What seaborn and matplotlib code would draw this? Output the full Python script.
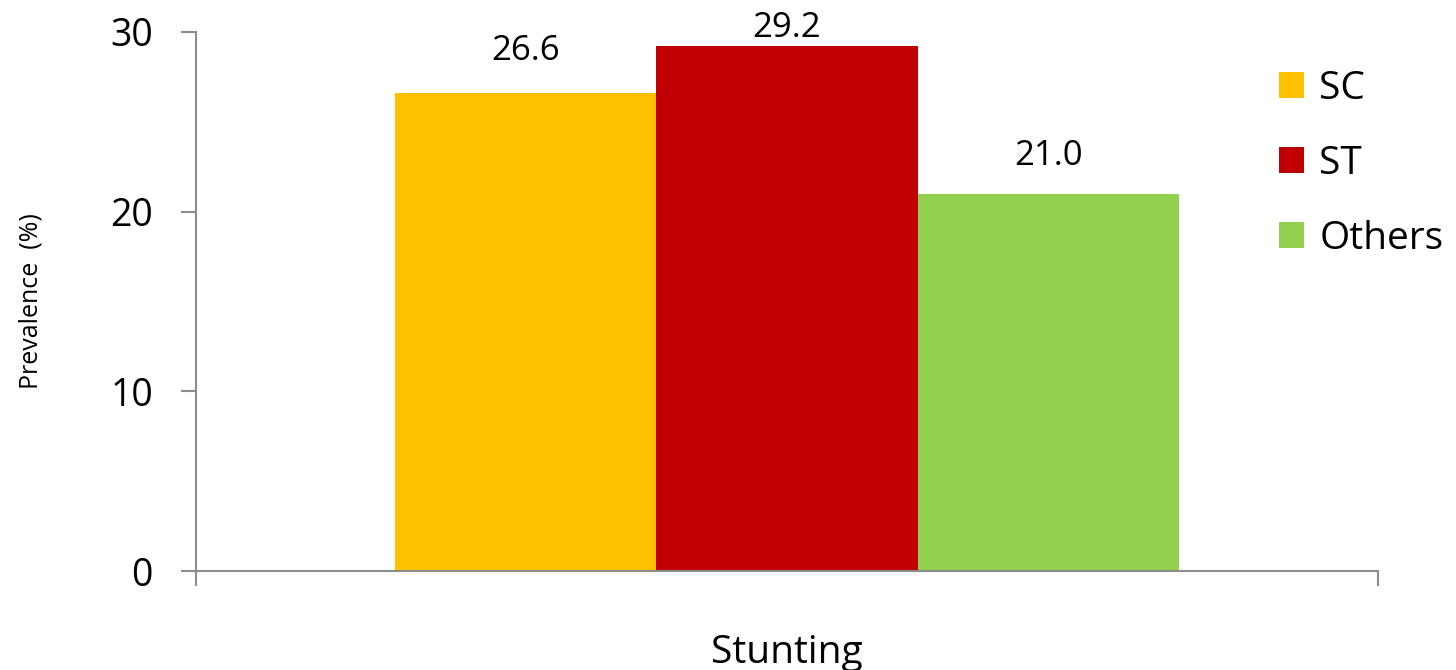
import matplotlib
matplotlib.use("Agg")
import matplotlib.pyplot as plt
import seaborn as sns
import pandas as pd

# Data
indicator = ["Stunting"]
groups = ["SC", "ST", "Others"]
prevalence = [26.6, 29.2, 21.0]
group_colors = ["#FFC000", "#C00000", "#92D050"]
y_ticks = [0, 10, 20, 30]

df = pd.DataFrame({
    "indicator": indicator * len(groups),
    "group": groups,
    "prevalence": prevalence,
})

sns.set_theme(style="white")
plt.rcParams["font.family"] = ["Open Sans", "DejaVu Sans"]
plt.rcParams["text.color"] = "black"
plt.rcParams["xtick.color"] = "black"
plt.rcParams["ytick.color"] = "black"
plt.rcParams["axes.labelcolor"] = "black"

fig = plt.figure(figsize=(14.56, 6.70), dpi=100)
ax = fig.add_axes([196 / 1456, 99 / 670, 1182 / 1456, 539 / 670])

sns.barplot(data=df, x="indicator", y="prevalence", hue="group",
            hue_order=groups, palette=group_colors, width=0.663, gap=0,
            saturation=1, ax=ax, legend=True, linewidth=0)

# value labels above each bar
pads = [18, 1, 15]
for cont, pad in zip(ax.containers, pads):
    ax.bar_label(cont, fmt="%.1f", padding=pad, fontsize=25, color="black")

ax.set_xlim(-0.5, 0.5)
ax.set_ylim(0, 30)
ax.set_yticks(y_ticks)
ax.set_yticklabels([str(t) for t in y_ticks], fontsize=27)
ax.set_xticks([0])
ax.set_xticklabels(indicator, fontsize=28)
ax.set_xticks([-0.5, 0.5], minor=True)
ax.tick_params(axis="x", which="major", length=0, pad=45, bottom=True)
ax.tick_params(axis="x", which="minor", length=11, width=1.5, color="#8c8c8c",
               direction="out", bottom=True)
ax.tick_params(axis="y", which="major", length=11, width=1.5, color="#8c8c8c",
               direction="out", pad=20, left=True)
ax.set_xlabel("")
ax.set_ylabel("Prevalence  (%)", fontsize=18, labelpad=48)

for side in ["top", "right"]:
    ax.spines[side].set_visible(False)
for side in ["left", "bottom"]:
    ax.spines[side].set_color("#8c8c8c")
    ax.spines[side].set_linewidth(1.5)

leg = ax.legend(loc="upper left", bbox_to_anchor=(1279 / 1456, 600 / 670),
                bbox_transform=fig.transFigure, frameon=False, fontsize=28,
                handlelength=0.64, handleheight=0.64, handletextpad=0.4,
                labelspacing=0.95, borderaxespad=0, borderpad=0)

fig.savefig("out.png", dpi=100)
